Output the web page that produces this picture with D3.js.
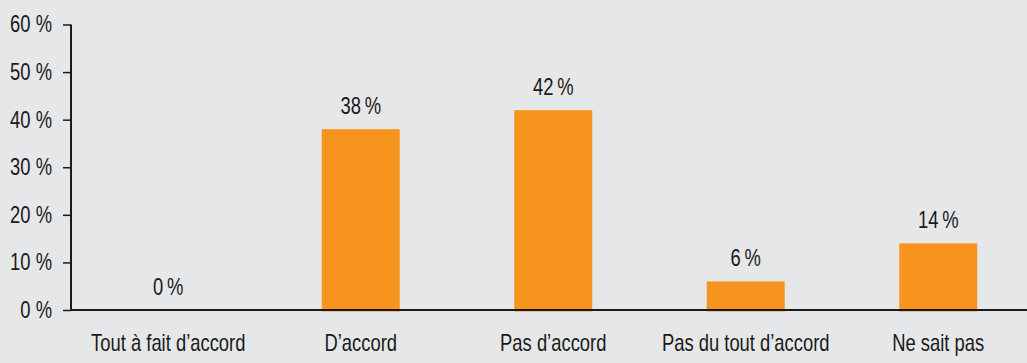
<!DOCTYPE html>
<html><head><meta charset="utf-8">
<script src="https://cdn.jsdelivr.net/npm/d3@7"></script>
<style>
html,body{margin:0;padding:0;background:#e6e7e8;}
svg{display:block;}
text{font-family:"Liberation Sans Narrow","Liberation Sans",Arial,sans-serif;fill:#1a1a1a;}
</style></head>
<body>
<svg id="c" width="1027" height="363"></svg>
<script>
const categories = ["Tout à fait d’accord","D’accord","Pas d’accord","Pas du tout d’accord","Ne sait pas"];
const values = [0, 38, 42, 6, 14];
const tickValues = [0, 10, 20, 30, 40, 50, 60];

const W = 1027, H = 363;
const SX = 0.8; // horizontal condensing of the sans font
const svg = d3.select("#c");
svg.append("rect").attr("width", W).attr("height", H).attr("fill", "#e6e7e8");

const x = d3.scaleBand().domain(categories).range([72, 1034.5]).paddingInner(0.595).paddingOuter(0.2975);
const y = d3.scaleLinear().domain([0, 60]).range([310, 24.5]);

// bars
svg.selectAll("rect.bar").data(values).enter().append("rect")
  .attr("class", "bar")
  .attr("x", (d, i) => x(categories[i]))
  .attr("width", x.bandwidth())
  .attr("y", d => y(d))
  .attr("height", d => d > 0 ? y(0) - y(d) + 1.5 : 0)
  .attr("fill", "#f7941d");

// value labels
svg.selectAll("text.val").data(values).enter().append("text")
  .attr("class", "val")
  .attr("transform", `scale(${SX},1)`)
  .attr("x", (d, i) => (x(categories[i]) + x.bandwidth() / 2) / SX)
  .attr("y", d => y(d) - 15)
  .attr("text-anchor", "middle")
  .attr("font-size", 23)
  .text(d => d + "\u2009%");

// y axis
const yAxis = d3.axisLeft(y).tickValues(tickValues).tickSize(8).tickPadding(11)
  .tickFormat(d => d + " %");
const gy = svg.append("g").attr("transform", "translate(71,0)").call(yAxis);
gy.attr("font-family", null).attr("font-size", null);
gy.select(".domain").attr("stroke", "#1a1a1a").attr("stroke-width", 2).attr("d", "M0," + y(60) + "V" + y(0));
gy.selectAll(".tick line").attr("stroke", "#1a1a1a").attr("stroke-width", 1.5);
gy.selectAll(".tick text").attr("font-size", 23).attr("fill", "#1a1a1a")
  .attr("transform", `scale(${SX},1)`).attr("x", -19 / SX);

// x axis
const xAxis = d3.axisBottom(x).tickSize(0).tickPadding(25);
const gx = svg.append("g").attr("transform", "translate(0," + y(0) + ")").call(xAxis);
gx.attr("font-family", null).attr("font-size", null);
gx.select(".domain").attr("stroke", "#1a1a1a").attr("stroke-width", 2).attr("d", "M70,0H" + W);
gx.selectAll(".tick text").attr("font-size", 23).attr("fill", "#1a1a1a")
  .attr("transform", `scale(${SX},1)`);
</script>
</body></html>
